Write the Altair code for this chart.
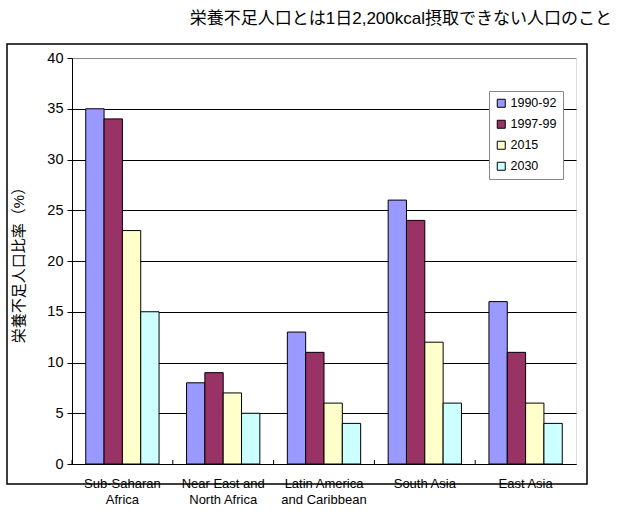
import altair as alt
import pandas as pd

# Regions (the "|" marks a line break in the axis label)
regions = [
    "Sub-Saharan|Africa",
    "Near East and|North Africa",
    "Latin America|and Caribbean",
    "South Asia",
    "East Asia",
]
periods = ["1990-92", "1997-99", "2015", "2030"]
colors = ["#9999FF", "#993366", "#FFFFCC", "#CCFFFF"]

# Undernourished share of population (%) per region, one list per period
v_1990_92 = [35, 8, 13, 26, 16]
v_1997_99 = [34, 9, 11, 24, 11]
v_2015 = [23, 7, 6, 12, 6]
v_2030 = [15, 5, 4, 6, 4]

y_ticks = [0, 5, 10, 15, 20, 25, 30, 35, 40]

series = dict(zip(periods, [v_1990_92, v_1997_99, v_2015, v_2030]))
df = pd.DataFrame(
    [
        {"region": r, "period": p, "value": vals[i]}
        for p, vals in series.items()
        for i, r in enumerate(regions)
    ]
)
bounds = pd.DataFrame({"region": regions})

FONT = "Liberation Sans, Arial, Noto Sans CJK JP"
W, H = 504, 406

x_enc = alt.X(
    "region:N",
    sort=regions,
    scale=alt.Scale(paddingInner=0, paddingOuter=0),
    axis=alt.Axis(
        title=None,
        labelAngle=0,
        labelExpr="split(datum.label, '|')",
        labelFontSize=13,
        labelLineHeight=16,
        labelColor="black",
        labelPadding=13,
        ticks=False,
        domainColor="black",
        labelFont=FONT,
    ),
)

bars = (
    alt.Chart(df)
    .mark_bar(stroke="black", strokeWidth=1)
    .encode(
        x=x_enc,
        xOffset=alt.XOffset(
            "period:N",
            sort=periods,
            scale=alt.Scale(paddingInner=0, paddingOuter=0.75),
        ),
        y=alt.Y(
            "value:Q",
            scale=alt.Scale(domain=[0, 40], nice=False),
            axis=alt.Axis(
                values=y_ticks,
                title="栄養不足人口比率（%）",
                titleFont=FONT,
                titleFontSize=15,
                titleFontWeight="normal",
                titleColor="black",
                titleAngle=270,
                titleX=-54,
                titleY=H / 2,
                titleAlign="center",
                titleBaseline="middle",
                labelFont=FONT,
                labelFontSize=14.5,
                labelColor="black",
                labelPadding=4,
                tickColor="black",
                tickSize=5,
                domainColor="black",
                gridColor={"expr": "datum.value == 40 ? '#888888' : 'black'"},
                gridOpacity=1,
            ),
        ),
        color=alt.Color(
            "period:N",
            sort=periods,
            scale=alt.Scale(domain=periods, range=colors),
            legend=alt.Legend(
                title=None,
                orient="none",
                legendX=417,
                legendY=33,
                fillColor="white",
                strokeColor="#888888",
                padding=6,
                symbolType="square",
                symbolSize=64,
                symbolStrokeColor="black",
                symbolStrokeWidth=1,
                symbolOpacity=1,
                labelFont=FONT,
                labelFontSize=12.5,
                labelColor="black",
                labelOffset=3,
                rowPadding=8,
            ),
        ),
    )
)

# Small inward ticks at the category boundaries on the x axis
ticks = (
    alt.Chart(bounds)
    .mark_rule(color="black", strokeWidth=1)
    .encode(
        x=alt.X("region:N", sort=regions, bandPosition=0),
        y=alt.value(H - 4),
        y2=alt.value(H),
    )
)

# Outer frame around the whole chart
frame = (
    alt.Chart(bounds.head(1))
    .mark_rect(fill=None, stroke="black", strokeWidth=1.5)
    .encode(
        x=alt.value(-65),
        x2=alt.value(515),
        y=alt.value(-14),
        y2=alt.value(H + 20),
    )
)

chart = (
    alt.layer(frame, bars, ticks)
    .properties(
        width=W,
        height=H,
        autosize=alt.AutoSizeParams(type="none"),
        padding={"left": 72, "top": 58, "right": 42, "bottom": 48},
        title=alt.TitleParams(
            "栄養不足人口とは1日2,200kcal摂取できない人口のこと",
            anchor="end",
            frame="group",
            dx=36,
            offset=15,
            font=FONT,
            fontSize=17,
            fontWeight="normal",
            color="black",
        ),
    )
    .configure_view(stroke="#888888", strokeWidth=1)
    .configure(background="white")
)

chart.save("out.html", embed_options={"renderer": "svg", "actions": False})
